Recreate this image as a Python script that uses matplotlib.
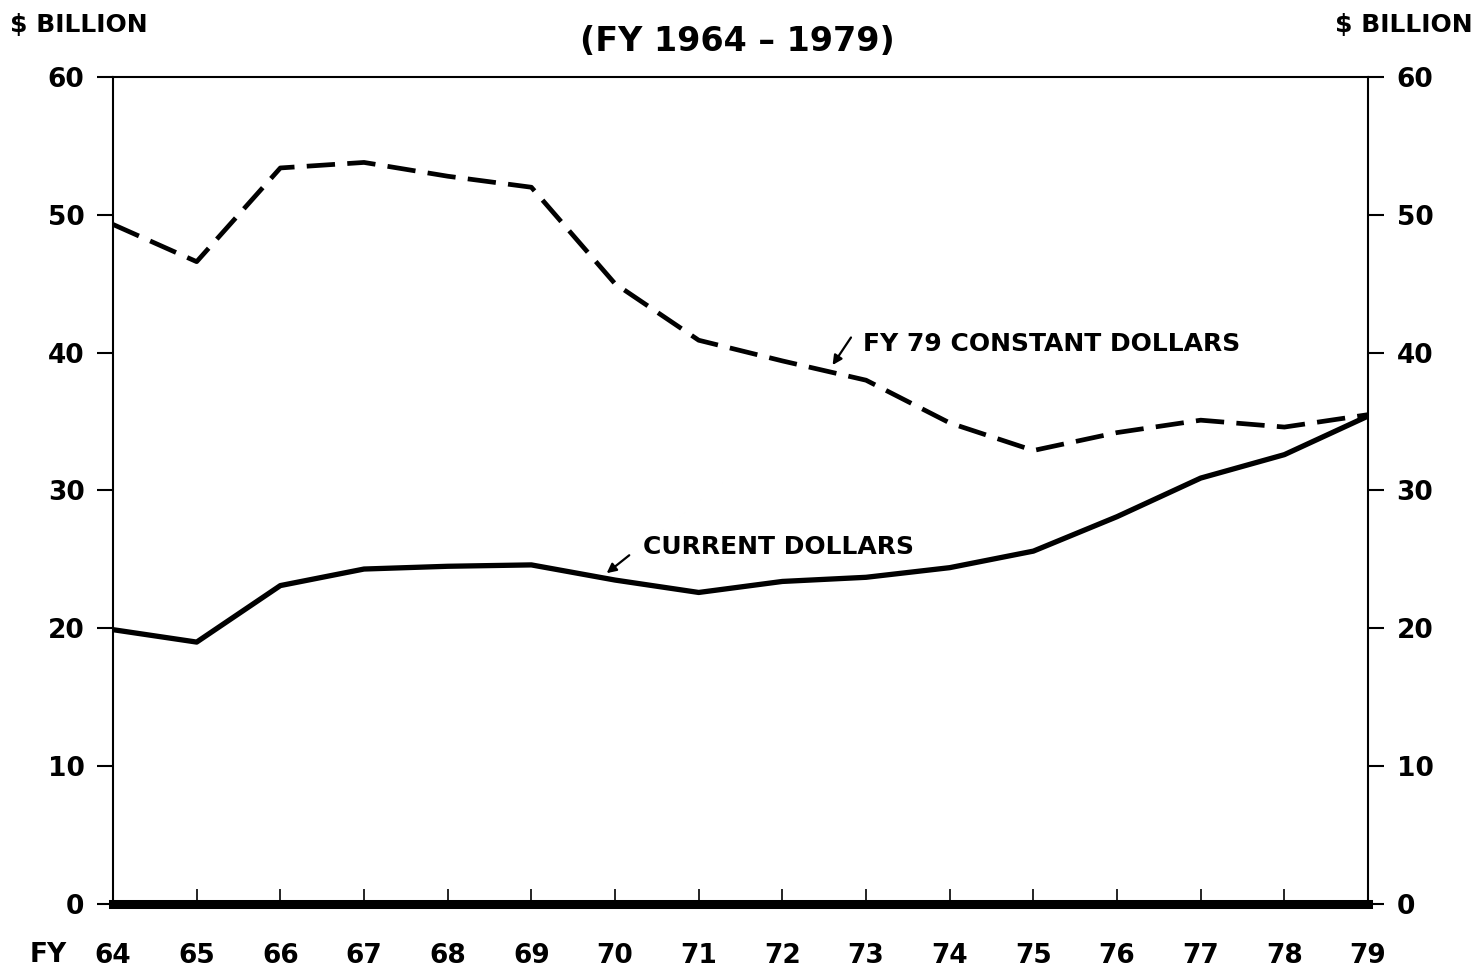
import matplotlib
matplotlib.use("Agg")
import matplotlib.pyplot as plt

plt.rcParams['font.family'] = ['DejaVu Sans']
plt.rcParams['font.weight'] = 'bold'

# fiscal years 1964-1979
years = [64, 65, 66, 67, 68, 69, 70, 71, 72, 73, 74, 75, 76, 77, 78, 79]
# $ billion
current = [19.9, 19.0, 23.1, 24.3, 24.5, 24.6, 23.5, 22.6, 23.4, 23.7, 24.4, 25.6, 28.1, 30.9, 32.6, 35.4]
constant = [49.3, 46.6, 53.4, 53.8, 52.8, 52.0, 45.0, 40.9, 39.4, 38.0, 34.9, 32.9, 34.2, 35.1, 34.6, 35.5]
yticks = [0, 10, 20, 30, 40, 50, 60]

fig = plt.figure(figsize=(14.83, 9.72), dpi=100)
ax = fig.add_axes([0.0762, 0.070, 0.8463, 0.8508])

ax.plot(years, current, color='black', lw=3.8, solid_joinstyle='round')
ax.plot(years, constant, color='black', lw=3.4, linestyle=(0, (6, 2.6)))

ax.set_xlim(64, 79)
ax.set_ylim(0, 60)
ax.set_xticks(years)
ax.set_xticklabels([str(y) for y in years])
ax.set_yticks(yticks)
ax.set_yticklabels([str(v) for v in yticks])

for side in ['left', 'right', 'top']:
    ax.spines[side].set_linewidth(1.5)
ax.spines['bottom'].set_linewidth(6.5)

ax.yaxis.set_ticks_position('both')
ax.tick_params(axis='y', direction='out', length=11.5, width=1.5, labelsize=19,
               labelright=True, pad=9)
ax.tick_params(axis='x', direction='in', length=11, width=1.2, labelsize=19, pad=28)

# labels with small pointer arrows
ax.text(72.96, 40.6, 'FY 79 CONSTANT DOLLARS', fontsize=18, va='center', ha='left')
ax.annotate('', xy=(72.6, 39.1), xytext=(72.82, 41.1),
            arrowprops=dict(arrowstyle='-|>', color='black', lw=1.6,
                            mutation_scale=14, shrinkA=0, shrinkB=0))
ax.text(70.34, 25.9, 'CURRENT DOLLARS', fontsize=18, va='center', ha='left')
ax.annotate('', xy=(69.9, 24.0), xytext=(70.17, 25.3),
            arrowprops=dict(arrowstyle='-|>', color='black', lw=1.6,
                            mutation_scale=14, shrinkA=0, shrinkB=0))

fig.text(0.497, 0.957, '(FY 1964 – 1979)', fontsize=24, ha='center', va='center')
fig.text(0.007, 0.974, '$ BILLION', fontsize=18, ha='left', va='center')
fig.text(0.993, 0.974, '$ BILLION', fontsize=18, ha='right', va='center')
fig.text(0.020, 0.0175, 'FY', fontsize=19, ha='left', va='center')

fig.savefig('out.png', dpi=100)
